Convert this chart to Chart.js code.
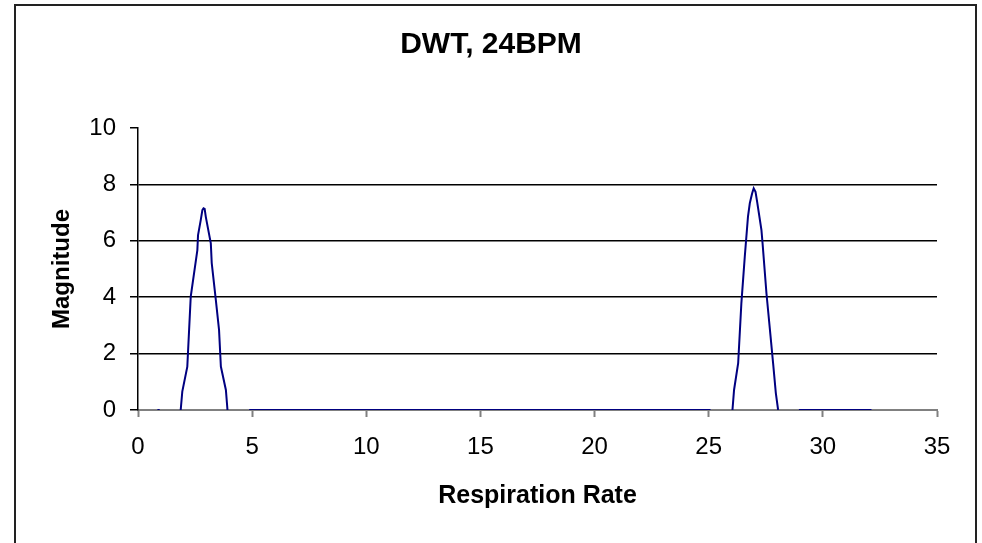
<!DOCTYPE html>
<html>
<head>
<meta charset="utf-8">
<script src="https://cdn.jsdelivr.net/npm/chart.js@4/dist/chart.umd.min.js"></script>
<style>
  html, body { margin: 0; padding: 0; background: #fff; }
  canvas { display: block; }
</style>
</head>
<body>
<canvas id="myChart" width="982" height="543"></canvas>
<script>
// data, null = gap in the line
const rate = [
  0.85, 0.95, null,
  1.87, 1.94, 2.16, 2.31, 2.60, 2.63, 2.75, 2.82, 2.87, 2.92, 2.97, 3.19, 3.23, 3.41, 3.55, 3.63, 3.85, 3.92, null,
  4.87, 25.08, null,
  26.04, 26.11, 26.29, 26.43, 26.58, 26.72, 26.80, 26.90, 26.97, 27.05, 27.12, 27.31, 27.36, 27.53, 27.71, 27.82, 27.94, 28.04, null,
  28.95, 32.13
];
const magnitude = [
  0, 0, null,
  0, 0.65, 1.54, 4.02, 5.67, 6.2, 6.74, 7.09, 7.15, 7.13, 6.85, 5.91, 5.21, 3.9, 2.84, 1.54, 0.71, 0, null,
  0, 0, null,
  0, 0.71, 1.66, 3.78, 5.44, 6.86, 7.33, 7.68, 7.86, 7.74, 7.39, 6.38, 5.9, 4.13, 2.6, 1.66, 0.6, 0, null,
  0, 0
];
const xTicks = [0, 5, 10, 15, 20, 25, 30, 35];
const yTicks = [0, 2, 4, 6, 8, 10];

const FONT = "'Liberation Sans', Arial, sans-serif";

const points = rate.map((x, i) => ({ x: x, y: x === null ? null : magnitude[i] }));

// outer frame + chart title
const frame = {
  id: "frame",
  afterDraw(chart) {
    const c = chart.ctx;
    c.save();
    c.strokeStyle = "#222";
    c.lineWidth = 2;
    c.strokeRect(15, 5, 961, 560);
    c.fillStyle = "#000";
    c.font = "bold 30px " + FONT;
    c.textAlign = "center";
    c.textBaseline = "middle";
    c.fillText("DWT, 24BPM", 491, 45);
    c.restore();
  },
};

const ctx = document.getElementById("myChart");
const myChart = new Chart(ctx, {
  type: "line",
  data: {
    datasets: [
      {
        label: "Magnitude",
        data: points,
        borderColor: "#000080",
        borderWidth: 2,
        pointRadius: 0,
        tension: 0,
        spanGaps: false,
      },
    ],
  },
  options: {
    responsive: false,
    animation: false,
    layout: { padding: { top: 128, right: 45, left: 0, bottom: 0 } },
    plugins: { legend: { display: false }, tooltip: { enabled: false } },
    scales: {
      x: {
        type: "linear",
        min: 0,
        max: 35,
        afterBuildTicks: (s) => { s.ticks = xTicks.map((v) => ({ value: v })); },
        afterFit: (s) => { s.height = 133; },
        border: { color: "#808080", width: 2 },
        grid: { drawOnChartArea: false, drawTicks: true, tickLength: 7, tickColor: "#808080", tickWidth: 2 },
        ticks: { color: "#000", padding: 16, font: { family: FONT, size: 24 } },
        title: {
          display: true,
          text: "Respiration Rate",
          color: "#000",
          font: { family: FONT, size: 25, weight: "bold" },
          padding: { top: 0, bottom: 32 },
        },
      },
      y: {
        min: 0,
        max: 10,
        afterBuildTicks: (s) => { s.ticks = yTicks.map((v) => ({ value: v })); },
        afterFit: (s) => { s.width = 138; },
        border: { color: "#000", width: 1.5 },
        grid: {
          color: (c) => (c.tick && (c.tick.value === 0 || c.tick.value === 10) ? "rgba(0,0,0,0)" : "#000"),
          lineWidth: 1.5,
          drawTicks: true,
          tickLength: 8,
          tickColor: "#000",
        },
        ticks: { color: "#000", padding: 14, font: { family: FONT, size: 24 } },
        title: {
          display: true,
          text: "Magnitude",
          color: "#000",
          font: { family: FONT, size: 24, weight: "bold" },
          padding: { top: 48, bottom: 0 },
        },
      },
    },
  },
  plugins: [frame],
});
</script>
</body>
</html>
